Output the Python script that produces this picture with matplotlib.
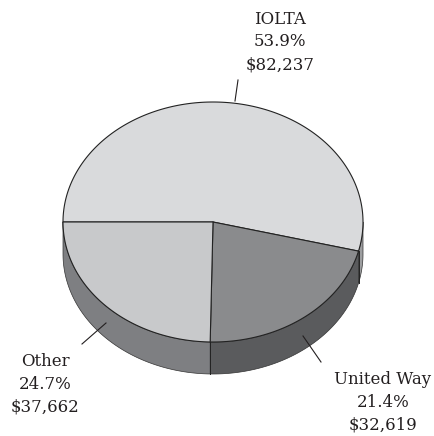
import numpy as np
import matplotlib
matplotlib.use("Agg")
import matplotlib.pyplot as plt
from matplotlib.patches import Polygon

# Data
categories = ["IOLTA", "United Way", "Other"]
percents = [53.9, 21.4, 24.7]
amounts = ["$82,237", "$32,619", "$37,662"]

top_colors = ["#d9dadc", "#8a8b8d", "#c8c9cb"]
side_colors = ["#9d9ea0", "#5a5b5d", "#7e7f82"]

W, H = 435, 436
fig = plt.figure(figsize=(W / 100, H / 100), dpi=100)
ax = fig.add_axes([0, 0, 1, 1])
ax.set_xlim(0, W)
ax.set_ylim(H, 0)
ax.axis("off")

cx, cy, a, b, depth = 213, 222, 150, 120, 32
start = 180.0
lw = 0.8


def pt(theta_deg, dy=0.0):
    t = np.radians(theta_deg)
    return cx + a * np.cos(t), cy - b * np.sin(t) + dy


# angle ranges (clockwise from 180 deg)
ranges = []
ang = start
for p in percents:
    sweep = p / 100 * 360
    ranges.append((ang, ang - sweep))
    ang -= sweep

# sides (front part: angles between -180 and 0)
for (t0, t1), sc in zip(ranges, side_colors):
    lo, hi = min(t0, t1), max(t0, t1)
    for shift in (0, -360, 360):
        s_lo, s_hi = max(lo + shift, -180), min(hi + shift, 0)
        if s_hi > s_lo:
            th = np.linspace(s_hi, s_lo, 100)
            top = [pt(t) for t in th]
            bot = [pt(t, depth) for t in th[::-1]]
            poly = Polygon(top + bot, closed=True, facecolor=sc,
                           edgecolor="#333333", lw=0.5, joinstyle="round")
            ax.add_patch(poly)

# vertical edge at slice boundaries on the front
for (t0, t1) in ranges:
    tt = ((t0 + 180) % 360) - 180
    if -180 < tt < 0:
        x0, y0 = pt(tt)
        ax.plot([x0, x0], [y0, y0 + depth], color="#222222", lw=0.7)

# tops
for (t0, t1), tc in zip(ranges, top_colors):
    th = np.linspace(t0, t1, 200)
    pts = [(cx, cy)] + [pt(t) for t in th]
    ax.add_patch(Polygon(pts, closed=True, facecolor=tc, edgecolor="#222222",
                         lw=lw, joinstyle="round"))

# labels
font = dict(family="DejaVu Serif", fontsize=12, color="#231f20",
            ha="center", va="center", linespacing=1.45)
label_pos = [(280, 42), (383, 402), (45, 384)]
leaders = [((238, 80), (235, 101)), ((321, 362), (303, 336)),
           ((82, 344), (106, 323))]
for name, p, amt, (lx, ly), ((x0, y0), (x1, y1)) in zip(
        categories, percents, amounts, label_pos, leaders):
    ax.text(lx, ly, f"{name}\n{p:.1f}%\n{amt}", **font)
    ax.plot([x0, x1], [y0, y1], color="#231f20", lw=0.8)

fig.savefig("out.png", dpi=100, facecolor="white")
